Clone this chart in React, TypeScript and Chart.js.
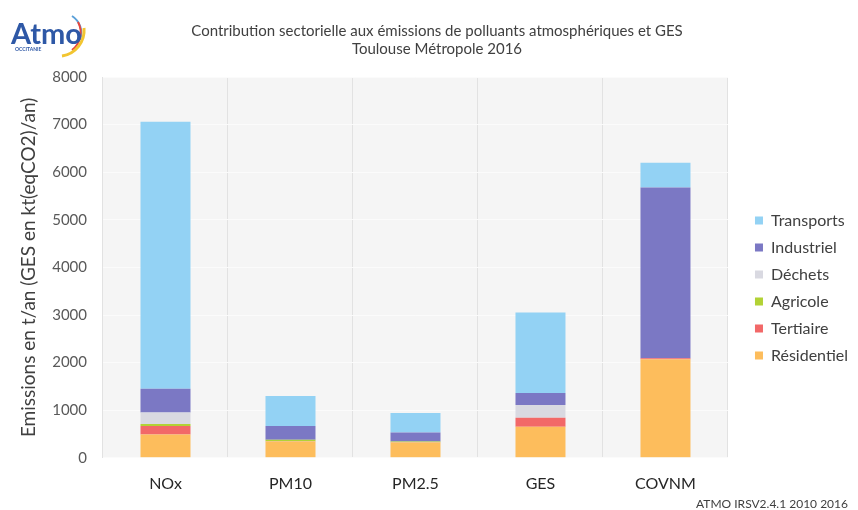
import React, { useEffect, useRef } from 'react';
import { Chart, registerables } from 'chart.js';

Chart.register(...registerables);

const categories = ['NOx', 'PM10', 'PM2.5', 'GES', 'COVNM'];
const residentiel = [490, 340, 320, 650, 2070];
const tertiaire = [180, 10, 5, 190, 20];
const agricole = [40, 30, 15, 0, 0];
const dechets = [240, 0, 0, 270, 0];
const industriel = [500, 290, 190, 250, 3590];
const transports = [5610, 630, 410, 1690, 520];

const yMin = 0;
const yMax = 8000;
const yStep = 1000;

const titleLines = [
  'Contribution sectorielle aux émissions de polluants atmosphériques et GES',
  'Toulouse Métropole 2016',
];
const yAxisTitle = 'Emissions en t/an (GES en kt(eqCO2)/an)';
const footnote = 'ATMO IRSV2.4.1 2010 2016';

const FONT = 'Lato, "Open Sans", sans-serif';

const panelBg = {
  id: 'panelBg',
  beforeDraw(chart: any) {
    const { ctx, chartArea } = chart;
    if (!chartArea) return;
    ctx.save();
    ctx.fillStyle = '#f5f5f5';
    ctx.fillRect(chartArea.left, chartArea.top, chartArea.right - chartArea.left, chartArea.bottom - chartArea.top);
    ctx.restore();
  },
};

export default function App() {
  const ref = useRef<HTMLCanvasElement | null>(null);

  useEffect(() => {
    if (!ref.current) return;
    const chart = new Chart(ref.current, {
      type: 'bar',
      data: {
        labels: categories,
        datasets: [
          { label: 'Résidentiel', data: residentiel, backgroundColor: '#fdbd5c' },
          { label: 'Tertiaire', data: tertiaire, backgroundColor: '#f26868' },
          { label: 'Agricole', data: agricole, backgroundColor: '#b2d235' },
          { label: 'Déchets', data: dechets, backgroundColor: '#d9d9e1' },
          { label: 'Industriel', data: industriel, backgroundColor: '#7b78c4' },
          { label: 'Transports', data: transports, backgroundColor: '#93d2f4' },
        ],
      },
      options: {
        responsive: false,
        animation: false,
        maintainAspectRatio: false,
        layout: { padding: { top: 77, left: 0, right: 0, bottom: 1 } },
        datasets: { bar: { categoryPercentage: 1, barPercentage: 0.4 } } as any,
        plugins: {
          title: { display: false },
          tooltip: { enabled: false },
          legend: {
            display: true,
            position: 'right',
            fullSize: false,
            reverse: true,
            title: { display: true, text: ' ', font: { size: 1 }, padding: { top: 20, bottom: 20 } },
            labels: {
              boxWidth: 8,
              boxHeight: 8,
              padding: 11,
              color: '#404040',
              font: { family: FONT, size: 16 },
            },
          },
        },
        scales: {
          x: {
            stacked: true,
            offset: true,
            grid: { display: true, color: '#e2e2e2', drawTicks: false, offset: true },
            border: { display: false },
            ticks: { color: '#262626', font: { family: FONT, size: 16 }, padding: 16 },
          },
          y: {
            stacked: true,
            min: yMin,
            max: yMax,
            ticks: {
              stepSize: yStep,
              color: '#595959',
              font: { family: FONT, size: 15 },
              padding: 16,
              callback: (v: any) => String(v),
            },
            grid: { color: '#fbfbfb', drawTicks: false },
            border: { display: false },
            title: {
              display: true,
              text: yAxisTitle,
              color: '#404040',
              font: { family: FONT, size: 19 },
              padding: { top: 17, bottom: 0 },
            },
            afterFit: (s: any) => { s.width = 103; },
          },
          yRight: {
            type: 'linear',
            position: 'right',
            display: true,
            grid: { display: false },
            border: { display: false },
            ticks: { display: false },
            afterFit: (s: any) => { s.width = 16; },
          },
        },
      } as any,
      plugins: [panelBg],
    });
    return () => chart.destroy();
  }, []);

  return (
    <div style={{ position: 'fixed', left: 0, top: 0, width: 858, height: 510, background: '#ffffff', overflow: 'hidden' }}>
      <canvas ref={ref} width={858} height={510} style={{ position: 'absolute', left: 0, top: 0, width: 858, height: 510 }} />
      <div style={{ position: 'absolute', left: 8, top: 12, width: 86, height: 46 }}>
        <svg width={86} height={46} style={{ position: 'absolute', left: 0, top: 0 }}>
          <path d="M 64 4 A 20 20 0 0 1 72 28" stroke="#5aa0d8" strokeWidth={2} fill="none" />
          <path d="M 70 10 A 22 22 0 0 1 64 38" stroke="#e8453c" strokeWidth={2} fill="none" />
          <path d="M 76 16 A 26 26 0 0 1 54 44" stroke="#f2c530" strokeWidth={3} fill="none" />
        </svg>
        <div style={{ position: 'absolute', left: 3, top: 6, font: `bold 29px ${FONT}`, color: '#2e58a6', lineHeight: '30px' }}>Atmo</div>
        <div style={{ position: 'absolute', left: 7, top: 34, font: `bold 5px ${FONT}`, color: '#2e58a6', lineHeight: '6px' }}>OCCITANIE</div>
      </div>
      <div style={{ position: 'absolute', left: 437, top: 21, transform: 'translateX(-50%)', whiteSpace: 'nowrap', textAlign: 'center', font: `15px ${FONT}`, lineHeight: '18px', color: '#404040' }}>
        {titleLines.map((t) => (<div key={t}>{t}</div>))}
      </div>
      <div style={{ position: 'absolute', right: 10, top: 496, font: `12px ${FONT}`, color: '#404040', whiteSpace: 'nowrap' }}>{footnote}</div>
    </div>
  );
}
